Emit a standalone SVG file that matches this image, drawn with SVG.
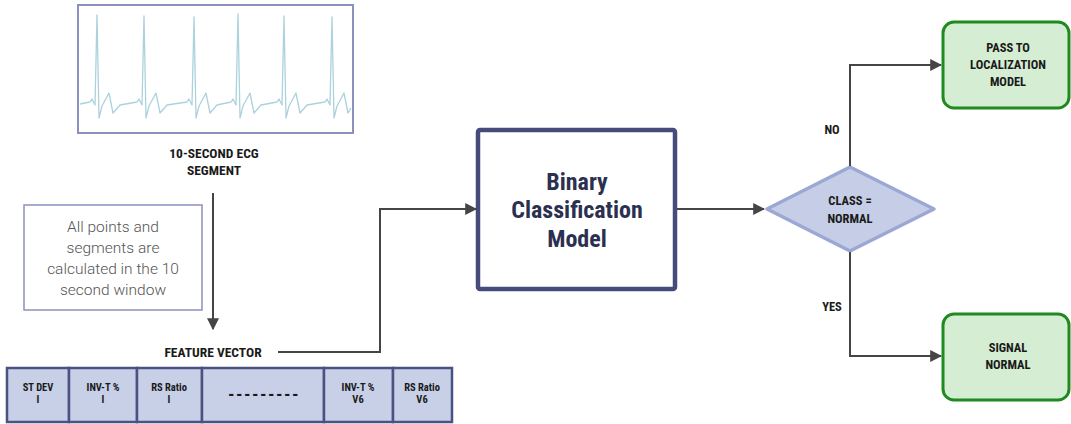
<svg xmlns="http://www.w3.org/2000/svg" width="1071" height="424" viewBox="0 0 1071 424">
<defs>
<marker id="arr" viewBox="0 0 10 10" refX="9" refY="5" markerWidth="6" markerHeight="6" markerUnits="strokeWidth" orient="auto">
<path d="M0,0 L10,5 L0,10 Z" fill="#454545"/>
</marker>
<style>
.lbl{font-family:Roboto,"Liberation Sans",sans-serif;font-weight:700;font-stretch:condensed;fill:#1a1a1a;text-anchor:middle}
.s13{font-size:13.5px}
.s11{font-size:12.5px}
.s10{font-size:10.5px}
.conn{fill:none;stroke:#454545;stroke-width:2}
.cell{fill:#c8d0e8;stroke:#4a5282;stroke-width:2.5}
.green{fill:#d5edd2;stroke:#1f8a1f;stroke-width:3}
</style>
</defs>
<rect width="1071" height="424" fill="#ffffff"/>

<g id="ecg">
<rect x="78" y="5" width="275" height="128" fill="#ffffff" stroke="#8c90bc" stroke-width="2"/>
<path fill="none" stroke="#abd2dd" stroke-width="1.3" stroke-linejoin="round" d="M80,104 L90,102 L92,99 L95,105 L97,15 L99,118 L102,106 L109,93 L113,113 L120,105 L137,102 L139,99 L142,105 L144,16 L146,118 L149,106 L156,93 L160,113 L167,105 L187,102 L189,99 L192,105 L194,17 L196,118 L199,106 L206,93 L210,113 L217,105 L231,102 L233,99 L236,105 L238,14 L240,118 L243,106 L250,93 L254,113 L261,105 L277,102 L279,99 L282,105 L284,16 L286,118 L289,106 L296,93 L300,113 L307,105 L325,102 L327,99 L330,105 L332,17 L334,118 L337,106 L344,93 L348,113 L351,108"/>
<text class="lbl s13" x="214" y="158">10-SECOND ECG</text>
<text class="lbl s13" x="214" y="175">SEGMENT</text>
</g>

<g id="note">
<rect x="24" y="205" width="178" height="105" fill="#ffffff" stroke="#8c90bc" stroke-width="1.5"/>
<g font-family="Roboto,'Liberation Sans',sans-serif" font-weight="300" font-size="15.5" fill="#555555" text-anchor="middle">
<text x="113" y="232">All points and</text>
<text x="113" y="253">segments are</text>
<text x="113" y="274">calculated in the 10</text>
<text x="113" y="295">second window</text>
</g>
</g>

<g id="feature-label">
<text class="lbl s13" x="213" y="357">FEATURE VECTOR</text>
</g>

<g id="feature-vector">
<rect class="cell" x="7" y="368" width="62" height="54"/>
<rect class="cell" x="69" y="368" width="68" height="54"/>
<rect class="cell" x="137" y="368" width="65" height="54"/>
<rect class="cell" x="202" y="368" width="122" height="54"/>
<rect class="cell" x="324" y="368" width="69" height="54"/>
<rect class="cell" x="393" y="368" width="59" height="54"/>
<text class="lbl s10" x="38" y="391">ST DEV</text>
<text class="lbl s10" x="38" y="403">I</text>
<text class="lbl s10" x="103" y="391">INV-T %</text>
<text class="lbl s10" x="103" y="403">I</text>
<text class="lbl s10" x="169" y="391">RS Ratio</text>
<text class="lbl s10" x="169" y="403">I</text>
<text class="lbl" font-size="18" letter-spacing="1.5" x="264" y="401">---------</text>
<text class="lbl s10" x="358" y="391">INV-T %</text>
<text class="lbl s10" x="358" y="403">V6</text>
<text class="lbl s10" x="422" y="391">RS Ratio</text>
<text class="lbl s10" x="422" y="403">V6</text>
</g>

<g id="binary-model">
<rect x="478" y="130" width="197" height="159" rx="2" fill="#ffffff" stroke="#454c7c" stroke-width="4.5"/>
<g class="lbl" font-size="24" style="fill:#2b3050">
<text x="577" y="190">Binary</text>
<text x="577" y="218">Classification</text>
<text x="577" y="247">Model</text>
</g>
</g>

<g id="decision">
<polygon points="767,209 850,167 934,209 850,251" fill="#c5cde7" stroke="#9ba8d4" stroke-width="3.5" stroke-linejoin="round"/>
<text class="lbl s11" x="850" y="205">CLASS =</text>
<text class="lbl s11" x="850" y="223">NORMAL</text>
</g>

<g id="pass-to-localization">
<rect class="green" x="943" y="22" width="126" height="86" rx="11"/>
<text class="lbl s11" x="1008" y="52">PASS TO</text>
<text class="lbl s11" x="1008" y="69">LOCALIZATION</text>
<text class="lbl s11" x="1008" y="86">MODEL</text>
</g>

<g id="signal-normal">
<rect class="green" x="943" y="314" width="126" height="86" rx="11"/>
<text class="lbl s11" x="1008" y="352">SIGNAL</text>
<text class="lbl s11" x="1008" y="369">NORMAL</text>
</g>

<g id="connectors">
<path class="conn" d="M213,193 L213,329" marker-end="url(#arr)"/>
<path class="conn" d="M278,352 L380,352 L380,209 L476,209" marker-end="url(#arr)"/>
<path class="conn" d="M677,209 L764,209" marker-end="url(#arr)"/>
<path class="conn" d="M850,166 L850,65 L941,65" marker-end="url(#arr)"/>
<path class="conn" d="M850,252 L850,356 L941,356" marker-end="url(#arr)"/>
<text class="lbl s11" x="832" y="134">NO</text>
<text class="lbl s11" x="832" y="311">YES</text>
</g>
</svg>
